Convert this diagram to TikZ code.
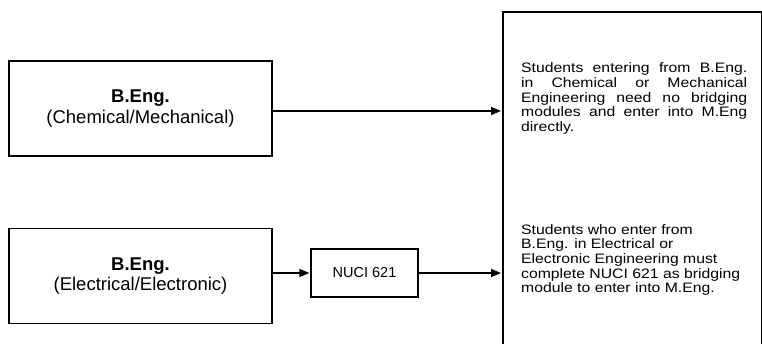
\documentclass[tikz,border=0pt]{standalone}
\usepackage{fontspec}
\setmainfont{Liberation Sans}
\newfontfamily\widefont[FakeStretch=1.15]{Liberation Sans}
\usetikzlibrary{arrows.meta}
\begin{document}
\begin{tikzpicture}[x=1pt,y=-1pt,
  srcbox/.style={draw, line width=1.3pt, minimum width=263pt, minimum height=95pt,
    inner sep=0pt, align=center, font=\fontsize{18.5}{20.5}\selectfont},
  modbox/.style={draw, line width=1.3pt, minimum width=107pt, minimum height=48pt,
    inner sep=0pt, font=\fontsize{14.5}{16}\selectfont},
  targetbox/.style={draw, line width=2pt, minimum width=259pt, minimum height=360pt,
    inner sep=0pt, anchor=north west},
  para/.style={anchor=north west, inner sep=0pt, align=left,
    font=\widefont\fontsize{13.7}{14.7}\selectfont},
  conn/.style={line width=1.3pt, -{Triangle[length=10pt,width=8pt]}, shorten >=1pt}]
\useasboundingbox (0,0) rectangle (762,344);
\clip (0,0) rectangle (762,344);
\node[srcbox] (A) at (140.5,108.5) {\textbf{B.Eng.}\\(Chemical/Mechanical)};
\node[srcbox] (B) at (140.5,276) {\textbf{B.Eng.}\\(Electrical/Electronic)};
\node[modbox] (N) at (364.5,273) {NUCI 621};
\node[targetbox] (R) at (502,11) {};
\coordinate (a1) at ([yshift=-2.5pt]A.east);
\draw[conn] (a1) -- (a1 -| R.west);
\draw[conn] (B.east |- N.west) -- (N.west);
\draw[conn] (N.east) -- (N.east -| R.west);
\node[para] (P1) at (521,62.5) {\makebox[226pt][s]{Students entering from B.Eng.}\\
\makebox[226pt][s]{in Chemical or Mechanical}\\
\makebox[226pt][s]{Engineering need no bridging}\\
\makebox[226pt][s]{modules and enter into M.Eng}\\
directly.};
\node[para] (P2) at (521,224) {Students who enter from\\
B.Eng. in Electrical or\\
Electronic Engineering must\\
complete NUCI 621 as bridging\\
module to enter into M.Eng.};
\end{tikzpicture}
\end{document}
